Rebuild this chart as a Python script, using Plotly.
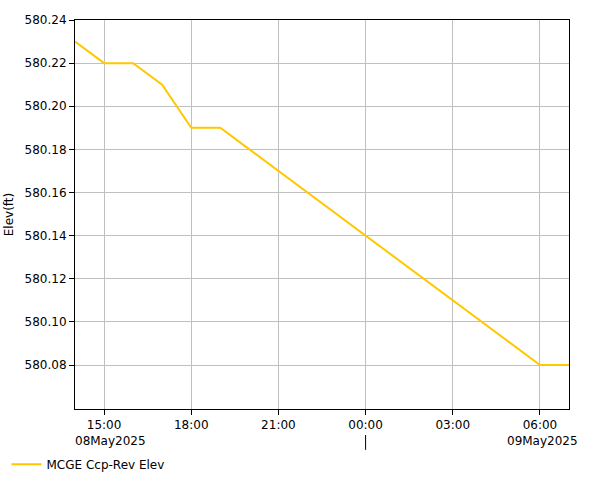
import plotly.graph_objects as go

times = ["2025-05-08 14:00", "2025-05-08 15:00", "2025-05-08 16:00", "2025-05-08 17:00",
         "2025-05-08 18:00", "2025-05-08 19:00", "2025-05-08 20:00", "2025-05-08 21:00",
         "2025-05-08 22:00", "2025-05-08 23:00", "2025-05-09 00:00", "2025-05-09 01:00",
         "2025-05-09 02:00", "2025-05-09 03:00", "2025-05-09 04:00", "2025-05-09 05:00",
         "2025-05-09 06:00", "2025-05-09 07:00"]
elev = [580.23, 580.22, 580.22, 580.21, 580.19, 580.19, 580.18, 580.17, 580.16, 580.15,
        580.14, 580.13, 580.12, 580.11, 580.10, 580.09, 580.08, 580.08]

tick_vals = ["2025-05-08 15:00", "2025-05-08 18:00", "2025-05-08 21:00",
             "2025-05-09 00:00", "2025-05-09 03:00", "2025-05-09 06:00"]
tick_text = ["15:00", "18:00", "21:00", "00:00", "03:00", "06:00"]
y_ticks = [580.08, 580.10, 580.12, 580.14, 580.16, 580.18, 580.20, 580.22, 580.24]

font = "DejaVu Sans, Verdana, sans-serif"

fig = go.Figure()
fig.add_trace(go.Scatter(x=times, y=elev, mode="lines", name="MCGE Ccp-Rev Elev",
                         line=dict(color="#FFC800", width=2)))

fig.update_layout(
    width=601, height=480,
    margin=dict(l=75, r=32, t=20, b=71, autoexpand=False),
    paper_bgcolor="white", plot_bgcolor="white",
    font=dict(family=font, size=12, color="black"),
    showlegend=True,
    legend=dict(orientation="h", x=-0.1387, xanchor="left", y=-0.105, yanchor="top",
                font=dict(size=12), itemwidth=30, bgcolor="rgba(0,0,0,0)"),
    xaxis=dict(type="date", range=["2025-05-08 14:00", "2025-05-09 07:00"],
               tickvals=tick_vals, ticktext=tick_text, showgrid=True, gridcolor="#c0c0c0",
               gridwidth=1, showline=True, linecolor="black", linewidth=1, mirror=True,
               ticks="outside", ticklen=5, tickcolor="black", zeroline=False, automargin=False),
    yaxis=dict(range=[580.0596, 580.24], tickvals=y_ticks,
               ticktext=[f"{v:.2f}" for v in y_ticks], showgrid=True, gridcolor="#c0c0c0",
               gridwidth=1, showline=True, linecolor="black", linewidth=1, mirror=True,
               ticks="outside", ticklen=5, tickcolor="black", zeroline=False, automargin=False,
               title=dict(text="Elev(ft)", standoff=8, font=dict(size=12))),
)

fig.add_annotation(text="08May2025", xref="paper", yref="paper", x=-0.004, y=-0.06,
                   xanchor="left", yanchor="top", showarrow=False, font=dict(size=12))
fig.add_annotation(text="09May2025", xref="paper", yref="paper", x=1.022, y=-0.06,
                   xanchor="right", yanchor="top", showarrow=False, font=dict(size=12))
fig.add_shape(type="line", xref="x", yref="paper", x0="2025-05-09 00:00", x1="2025-05-09 00:00",
              y0=-0.0668, y1=-0.105, line=dict(color="black", width=1))

fig.write_html("out.html", config={"displayModeBar": False},
               post_script="document.body.style.margin='0';")
